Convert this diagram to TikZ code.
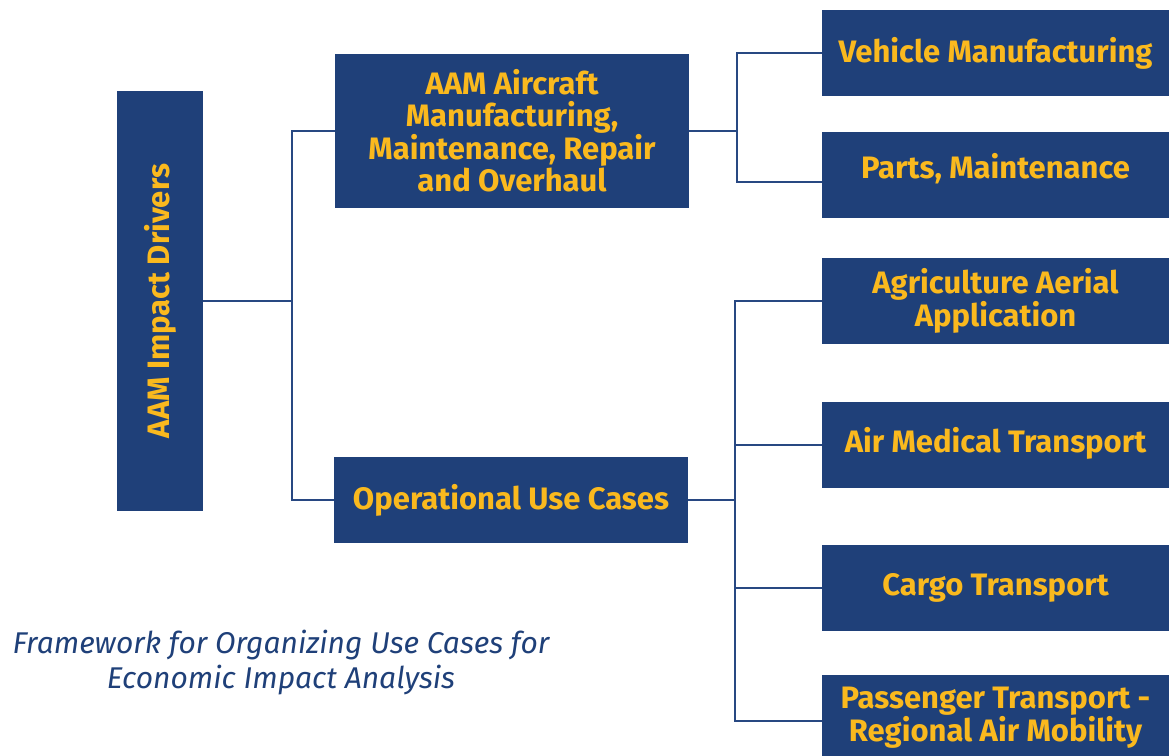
\documentclass[tikz,border=0pt]{standalone}
\usepackage{fontspec}
\newfontfamily\boxfont{Fira Sans}
\newfontfamily\capfont{Fira Sans}
\definecolor{boxblue}{RGB}{31,64,121}
\definecolor{lineblue}{RGB}{40,72,130}
\definecolor{txtyellow}{RGB}{250,185,30}
\definecolor{capblue}{RGB}{31,64,121}
\tikzset{
  box/.style={fill=boxblue, draw=none, inner sep=0pt, text=txtyellow,
    font=\boxfont\bfseries\fontsize{31}{32}\selectfont, align=center},
  rbox/.style={box, minimum width=347pt, minimum height=86pt},
  conn/.style={draw=lineblue, line width=2pt},
  boxtext/.style={text=txtyellow, font=\boxfont\bfseries\fontsize{31}{32}\selectfont, inner sep=0pt},
  captext/.style={text=capblue, font=\capfont\itshape\fontsize{30}{35}\selectfont, align=center, inner sep=0pt}
}
\begin{document}
\begin{tikzpicture}[x=1pt, y=-1pt]
\useasboundingbox (0,0) rectangle (1169,755);
\fill[white] (0,0) rectangle (1169,755);
% boxes
\node[box, minimum width=86pt, minimum height=420pt] (root) at (160,301) {};
\node[boxtext, rotate=90] (roottxt) at (root.center) {AAM Impact Drivers};
\node[box, minimum width=354pt, minimum height=154pt] (aam) at (512,131) {AAM Aircraft\\Manufacturing,\\Maintenance, Repair\\and Overhaul};
\node[box, minimum width=354pt, minimum height=86pt] (ops) at (511,500) {Operational Use Cases};
\node[rbox] (veh) at (995.5,53) {Vehicle Manufacturing};
\node[rbox] (parts) at (995.5,175) {\raisebox{6pt}[\height][\depth]{Parts, Maintenance}};
\node[rbox] (agri) at (995.5,301) {Agriculture Aerial\\Application};
\node[rbox] (med) at (995.5,445) {\raisebox{2pt}[\height][\depth]{Air Medical Transport}};
\node[rbox] (cargo) at (995.5,588) {Cargo Transport};
\node[rbox] (pass) at (995.5,718) {Passenger Transport -\\Regional Air Mobility};
% connectors
\draw[conn] (root.east) -- ++(89,0) |- (aam.west);
\draw[conn] (root.east) -- ++(89,0) |- (ops.west);
\draw[conn] (aam.east) -- ++(48,0) |- (veh.west);
\draw[conn] (aam.east) -- ++(48,0) |- ([yshift=-7pt]parts.west);
\draw[conn] (ops.east) -- ++(47,0) |- (agri.west);
\draw[conn] (ops.east) -- ++(47,0) |- (med.west);
\draw[conn] (ops.east) -- ++(47,0) |- (cargo.west);
\draw[conn] (ops.east) -- ++(47,0) |- ([yshift=-3pt]pass.west);
% caption
\node[captext] (cap) at (281,663) {Framework for Organizing Use Cases for\\Economic Impact Analysis};
\end{tikzpicture}
\end{document}
